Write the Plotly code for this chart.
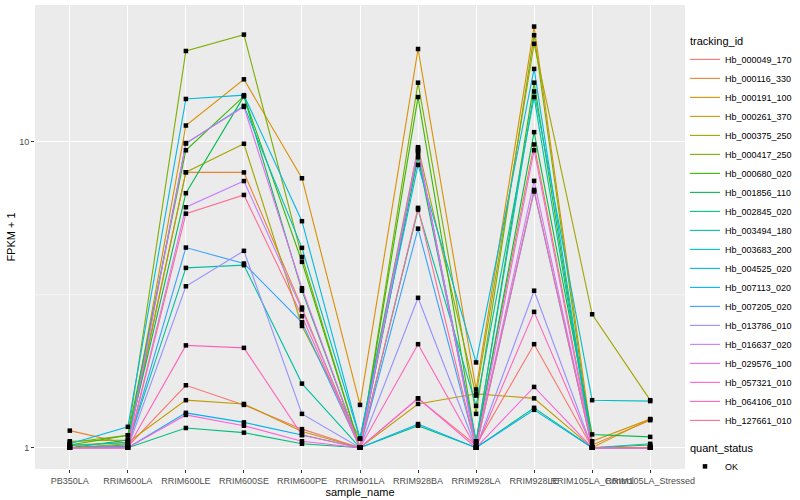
import plotly.graph_objects as go

categories = ["PB350LA", "RRIM600LA", "RRIM600LE", "RRIM600SE", "RRIM600PE", "RRIM901LA",
              "RRIM928BA", "RRIM928LA", "RRIM928LE", "RRIM105LA_Control", "RRIM105LA_Stressed"]

tracking_ids = ["Hb_000049_170", "Hb_000116_330", "Hb_000191_100", "Hb_000261_370", "Hb_000375_250",
                "Hb_000417_250", "Hb_000680_020", "Hb_001856_110", "Hb_002845_020", "Hb_003494_180",
                "Hb_003683_200", "Hb_004525_020", "Hb_007113_020", "Hb_007205_020", "Hb_013786_010",
                "Hb_016637_020", "Hb_029576_100", "Hb_057321_010", "Hb_064106_010", "Hb_127661_010"]

colors = ["#F8766D", "#EA8331", "#D89000", "#C09B00", "#A3A500", "#7CAE00", "#39B600", "#00BB4E",
          "#00BF7D", "#00C1A3", "#00BFC4", "#00BAE0", "#00B0F6", "#35A2FF", "#9590FF", "#C77CFF",
          "#E76BF3", "#FA62DB", "#FF62BC", "#FF6C91"]

hb_000049_170 = [1.0, 1.01, 1.60, 1.38, 1.15, 1.0, 1.45, 1.02, 2.18, 1.0, 1.0]
hb_000116_330 = [1.137, 1.03, 7.95, 7.94, 2.87, 1.0, 9.2, 1.05, 9.8, 1.02, 1.23]
hb_000191_100 = [1.0, 1.03, 11.3, 16.0, 7.6, 1.38, 20.1, 1.55, 23.8, 1.05, 1.24]
hb_000261_370 = [1.02, 1.04, 1.43, 1.39, 1.13, 1.0, 1.39, 1.5, 1.45, 1.0, 1.24]
hb_000375_250 = [1.05, 1.06, 7.95, 9.85, 2.5, 1.07, 9.6, 1.48, 20.9, 2.73, 1.43]
hb_000417_250 = [1.04, 1.098, 19.8, 22.4, 4.2, 1.0, 15.6, 1.29, 22.3, 1.0, 1.0]
hb_000680_020 = [1.02, 1.098, 9.38, 14.1, 4.05, 1.0, 14.0, 1.04, 15.6, 1.0, 1.02]
hb_001856_110 = [1.0, 1.06, 6.79, 14.1, 3.26, 1.0, 8.9, 1.03, 10.75, 1.105, 1.085]
hb_002845_020 = [1.0, 1.0, 1.16, 1.12, 1.03, 1.0, 1.18, 1.0, 1.35, 1.0, 1.0]
hb_003494_180 = [1.0, 1.02, 3.87, 3.95, 1.62, 1.0, 6.0, 1.37, 14.0, 1.0, 1.0]
hb_003683_200 = [1.015, 1.04, 9.87, 13.1, 4.5, 1.07, 9.3, 1.05, 14.6, 1.43, 1.42]
hb_004525_020 = [1.03, 1.17, 13.8, 14.2, 5.5, 1.07, 8.4, 1.9, 17.3, 1.0, 1.03]
hb_007113_020 = [1.0, 1.0, 1.30, 1.21, 1.10, 1.0, 1.195, 1.0, 1.33, 1.0, 1.0]
hb_007205_020 = [1.0, 1.01, 4.51, 4.0, 2.57, 1.0, 5.2, 1.0, 6.88, 1.0, 1.0]
hb_013786_010 = [1.0, 1.0, 3.37, 4.4, 1.29, 1.0, 3.09, 1.0, 3.26, 1.0, 1.0]
hb_016637_020 = [1.0, 1.0, 6.11, 7.44, 2.83, 1.0, 9.4, 1.0, 7.45, 1.0, 1.0]
hb_029576_100 = [1.0, 1.0, 9.9, 13.0, 3.32, 1.0, 9.5, 1.0, 9.38, 1.0, 1.0]
hb_057321_010 = [1.0, 1.0, 1.28, 1.18, 1.05, 1.0, 1.45, 1.0, 1.58, 1.0, 1.0]
hb_064106_010 = [1.0, 1.0, 2.16, 2.12, 1.10, 1.0, 2.18, 1.0, 2.78, 1.0, 1.0]
hb_127661_010 = [1.0, 1.0, 5.82, 6.7, 2.69, 1.0, 6.08, 1.0, 6.96, 1.0, 1.0]

series = [hb_000049_170, hb_000116_330, hb_000191_100, hb_000261_370, hb_000375_250,
          hb_000417_250, hb_000680_020, hb_001856_110, hb_002845_020, hb_003494_180,
          hb_003683_200, hb_004525_020, hb_007113_020, hb_007205_020, hb_013786_010,
          hb_016637_020, hb_029576_100, hb_057321_010, hb_064106_010, hb_127661_010]

FONT = "Liberation Sans"
Y_LOG_RANGE = [-0.0696, 1.447]
fig = go.Figure()

for i, (name, vals, col) in enumerate(zip(tracking_ids, series, colors)):
    tr = dict(x=categories, y=vals, mode="lines", name=name,
              line=dict(color=col, width=1.1), legendgroup="tracking_id")
    if i == 0:
        tr["legendgrouptitle"] = dict(text="tracking_id", font=dict(size=11, color="black", family=FONT))
    fig.add_trace(go.Scatter(**tr))

px, py = [], []
for vals in series:
    px.extend(categories)
    py.extend(vals)
fig.add_trace(go.Scatter(x=px, y=py, mode="markers", name="OK",
                         marker=dict(symbol="square", size=4.5, color="black"),
                         legendgroup="quant_status",
                         legendgrouptitle=dict(text="quant_status", font=dict(size=11, color="black", family=FONT))))

# minor grid line at 10^0.5 (ggplot log10 minor break)
minor_frac = (0.5 - Y_LOG_RANGE[0]) / (Y_LOG_RANGE[1] - Y_LOG_RANGE[0])
fig.add_shape(type="line", xref="paper", yref="paper", x0=0, x1=1, y0=minor_frac, y1=minor_frac,
              line=dict(color="white", width=0.6), layer="below")

fig.update_layout(
    width=800, height=500,
    margin=dict(l=35, r=115, t=5, b=31, autoexpand=False),
    paper_bgcolor="white", plot_bgcolor="#EBEBEB",
    font=dict(family=FONT, size=9, color="#4D4D4D"),
    legend=dict(x=1.0, y=0.955, xanchor="left", yanchor="top",
                font=dict(size=9, color="black", family=FONT),
                tracegroupgap=8, itemwidth=30, bgcolor="rgba(0,0,0,0)"),
)
fig.update_xaxes(type="category", categoryorder="array", categoryarray=categories,
                 range=[-0.6, len(categories) - 0.4], tickangle=0, automargin=False,
                 showgrid=True, gridcolor="white", gridwidth=1.1,
                 ticks="outside", ticklen=3, tickcolor="#333333", tickwidth=1,
                 tickfont=dict(size=9, color="#4D4D4D"), zeroline=False, showline=False,
                 title=dict(text="sample_name", font=dict(size=11, color="black"), standoff=3))
fig.update_yaxes(type="log", range=Y_LOG_RANGE, tickvals=[1, 10], ticktext=["1", "10"],
                 automargin=False,
                 showgrid=True, gridcolor="white", gridwidth=1.1,
                 ticks="outside", ticklen=3, tickcolor="#333333", tickwidth=1,
                 tickfont=dict(size=9, color="#4D4D4D"), zeroline=False, showline=False,
                 title=dict(text="FPKM + 1", font=dict(size=11, color="black"), standoff=1))

fig.write_html("out.html", config={"displayModeBar": False},
               post_script="document.body.style.margin='0px';")
